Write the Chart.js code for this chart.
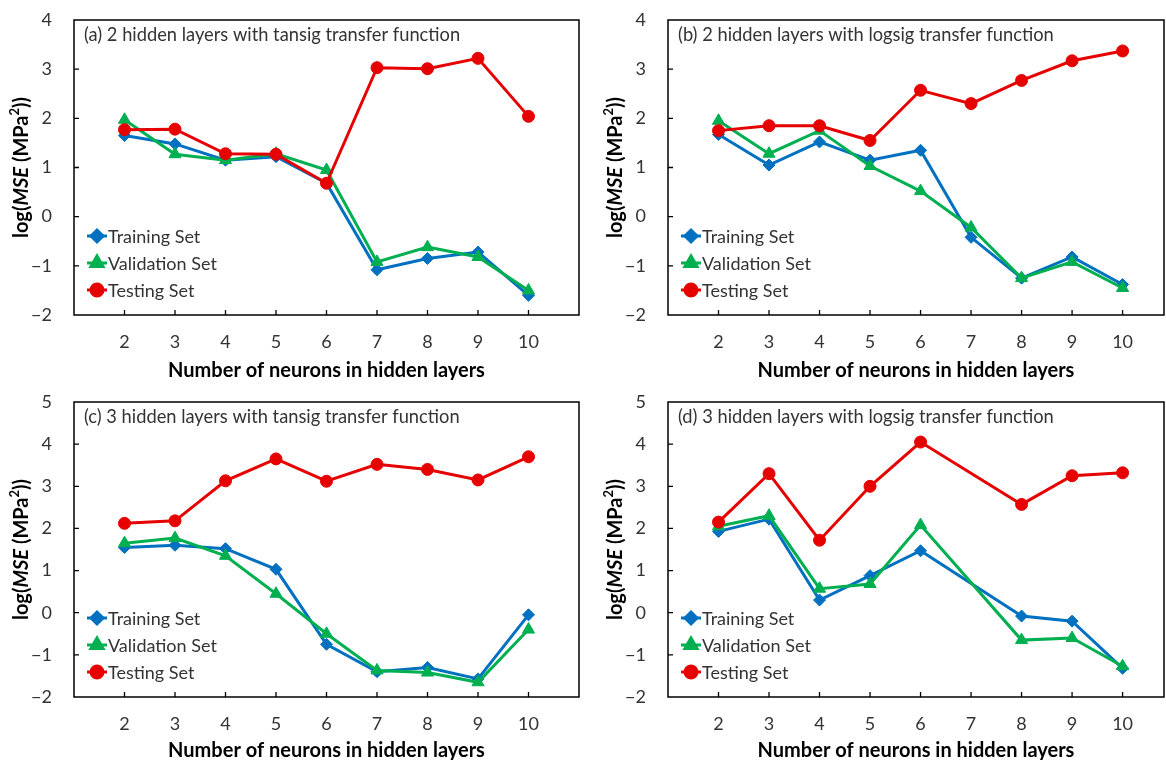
<!DOCTYPE html>
<html><head><meta charset="utf-8">
<script src="https://cdn.jsdelivr.net/npm/chart.js@4.4.0/dist/chart.umd.min.js"></script>
<style>
html,body{margin:0;padding:0;background:#fff;}
#wrap{position:relative;width:1166px;height:760px;overflow:hidden;background:#fff;}
canvas{position:absolute;}
</style></head><body>
<div id="wrap">
<canvas id="ca" width="583" height="380" style="left:0;top:0"></canvas>
<canvas id="cb" width="583" height="380" style="left:583px;top:0"></canvas>
<canvas id="cc" width="583" height="380" style="left:0;top:380px"></canvas>
<canvas id="cd" width="583" height="380" style="left:583px;top:380px"></canvas>
</div>
<script>
// ---- data ----
const neurons = [2, 3, 4, 5, 6, 7, 8, 9, 10];
const seriesNames = ['Training Set', 'Validation Set', 'Testing Set'];
const yTicksAB = [-2, -1, 0, 1, 2, 3, 4];
const yTicksCD = [-2, -1, 0, 1, 2, 3, 4, 5];
const titles = [
  '(a) 2 hidden layers with tansig transfer function',
  '(b) 2 hidden layers with logsig transfer function',
  '(c) 3 hidden layers with tansig transfer function',
  '(d) 3 hidden layers with logsig transfer function'
];
const xTitle = 'Number of neurons in hidden layers';

const trainA = [1.65, 1.48, 1.15, 1.22, 0.68, -1.08, -0.85, -0.72, -1.60];
const validA = [1.97, 1.27, 1.15, 1.28, 0.95, -0.92, -0.62, -0.82, -1.50];
const testA  = [1.77, 1.78, 1.28, 1.27, 0.68, 3.03, 3.01, 3.22, 2.04];

const trainB = [1.67, 1.05, 1.52, 1.15, 1.35, -0.42, -1.25, -0.82, -1.38];
const validB = [1.95, 1.28, 1.75, 1.03, 0.52, -0.22, -1.25, -0.92, -1.45];
const testB  = [1.75, 1.85, 1.85, 1.55, 2.57, 2.30, 2.77, 3.17, 3.37];

const trainC = [1.55, 1.60, 1.52, 1.03, -0.75, -1.40, -1.30, -1.57, -0.05];
const validC = [1.65, 1.77, 1.35, 0.45, -0.50, -1.37, -1.42, -1.65, -0.40];
const testC  = [2.12, 2.18, 3.13, 3.65, 3.12, 3.52, 3.40, 3.15, 3.70];

const trainD = [1.93, 2.22, 0.30, 0.88, 1.47, null, -0.08, -0.20, -1.32];
const validD = [2.05, 2.30, 0.57, 0.68, 2.08, null, -0.65, -0.60, -1.27];
const testD  = [2.15, 3.30, 1.72, 3.00, 4.05, null, 2.57, 3.25, 3.32];

// ---- styles ----
const colors = ['#0070C0', '#00B050', '#E60000'];
const pStyles = ['rectRot', 'triangle', 'circle'];
const pRadius = [6, 7, 6];
const FONT = 'Lato, "Open Sans", sans-serif';
const TXT = '#333333';

function fmt(v) { return v < 0 ? '\u2212' + Math.abs(v) : String(v); }

const decor = {
  id: 'decor',
  afterDraw(chart, args, opts) {
    const ctx = chart.ctx;
    const a = chart.chartArea;
    const xs = chart.scales.x, ys = chart.scales.y;
    ctx.save();
    // box
    ctx.strokeStyle = '#000';
    ctx.lineWidth = 1.5;
    ctx.strokeRect(a.left, a.top, a.right - a.left, a.bottom - a.top);
    // inner ticks
    ctx.lineWidth = 1.3;
    ctx.beginPath();
    ys.ticks.forEach(t => {
      const py = ys.getPixelForValue(t.value);
      if (Math.abs(py - a.top) < 2 || Math.abs(py - a.bottom) < 2) return;
      ctx.moveTo(a.left, py); ctx.lineTo(a.left + 5, py);
    });
    xs.ticks.forEach(t => {
      const px = xs.getPixelForValue(t.value);
      ctx.moveTo(px, a.bottom); ctx.lineTo(px, a.bottom - 5);
    });
    ctx.stroke();
    // panel title
    ctx.fillStyle = TXT;
    ctx.font = '18.3px ' + FONT;
    ctx.textBaseline = 'middle';
    ctx.textAlign = 'left';
    ctx.fillText(opts.title, a.left + 10, a.top + 15);
    // legend
    chart.data.datasets.forEach((ds, i) => {
      const y = a.top + 216 + 27 * i;
      const x0 = a.left + 13, x1 = a.left + 33;
      ctx.strokeStyle = ds.borderColor;
      ctx.lineWidth = 3;
      ctx.beginPath(); ctx.moveTo(x0, y); ctx.lineTo(x1, y); ctx.stroke();
      ctx.fillStyle = ds.borderColor;
      ctx.strokeStyle = ds.borderColor;
      Chart.helpers.drawPoint(ctx, {pointStyle: ds.pointStyle, radius: ds.pointRadius, rotation: 0, borderWidth: 1}, (x0 + x1) / 2, y);
      ctx.fillStyle = TXT;
      ctx.font = '18px ' + FONT;
      ctx.textBaseline = 'middle';
      ctx.fillText(ds.label, x1 + 1, y + 1);
    });
    // y title with italic + superscript
    const segs = [
      {t: 'log(', f: 'bold 20px ' + FONT, dy: 0},
      {t: 'MSE', f: 'italic bold 20px ' + FONT, dy: 0},
      {t: ' (MPa', f: 'bold 20px ' + FONT, dy: 0},
      {t: '2', f: 'bold 13px ' + FONT, dy: -7},
      {t: '))', f: 'bold 20px ' + FONT, dy: 0}
    ];
    let w = 0;
    segs.forEach(s => { ctx.font = s.f; s.w = ctx.measureText(s.t).width; w += s.w; });
    ctx.translate(a.left - 52, (a.top + a.bottom) / 2);
    ctx.rotate(-Math.PI / 2);
    ctx.fillStyle = '#000';
    ctx.textBaseline = 'middle';
    ctx.textAlign = 'left';
    let cx = -w / 2;
    segs.forEach(s => { ctx.font = s.f; ctx.fillText(s.t, cx, s.dy); cx += s.w; });
    ctx.restore();
  }
};

function makeChart(id, title, tr, va, te, yTicks, axisW, padTop, padRight, xMax, xH) {
  const sets = [tr, va, te];
  const datasets = sets.map((arr, i) => ({
    label: seriesNames[i],
    data: neurons.map((n, k) => ({x: n, y: arr[k]})),
    borderColor: colors[i],
    backgroundColor: colors[i],
    pointBackgroundColor: colors[i],
    pointBorderColor: colors[i],
    pointStyle: pStyles[i],
    pointRadius: pRadius[i],
    pointBorderWidth: 1,
    borderWidth: 3,
    spanGaps: true,
    order: 2 - i
  }));
  new Chart(document.getElementById(id), {
    type: 'line',
    data: {datasets},
    options: {
      responsive: false,
      animation: false,
      events: [],
      layout: {autoPadding: false, padding: {top: padTop, right: padRight, left: 0, bottom: 0}},
      plugins: {legend: {display: false}, tooltip: {enabled: false}, decor: {title}},
      scales: {
        x: {
          type: 'linear', min: 1, max: xMax,
          afterBuildTicks: s => { s.ticks = neurons.map(v => ({value: v})); },
          afterFit: s => { s.height = xH; s.paddingLeft = 0; s.paddingRight = 0; },
          ticks: {font: {family: FONT, size: 18}, color: TXT, padding: 16, autoSkip: false, maxRotation: 0},
          grid: {display: false, drawTicks: false},
          border: {display: false},
          title: {display: true, text: xTitle, color: '#000', font: {family: FONT, size: 20, weight: 'bold'}, padding: {top: 0, bottom: -3}}
        },
        y: {
          type: 'linear', min: yTicks[0], max: yTicks[yTicks.length - 1],
          afterBuildTicks: s => { s.ticks = yTicks.map(v => ({value: v})); },
          afterFit: s => { s.width = axisW; s.paddingTop = 0; s.paddingBottom = 0; },
          ticks: {font: {family: FONT, size: 18}, color: TXT, padding: 22, callback: v => fmt(v)},
          grid: {display: false, drawTicks: false},
          border: {display: false}
        }
      }
    },
    plugins: [decor]
  });
}

makeChart('ca', titles[0], trainA, validA, testA, yTicksAB, 74, 20, 4, 11, 65);
makeChart('cb', titles[1], trainB, validB, testB, yTicksAB, 85, 20, 2, 10.82, 65);
makeChart('cc', titles[2], trainC, validC, testC, yTicksCD, 74, 22, 4, 11, 63);
makeChart('cd', titles[3], trainD, validD, testD, yTicksCD, 85, 22, 2, 10.82, 63);
</script>
</body></html>
